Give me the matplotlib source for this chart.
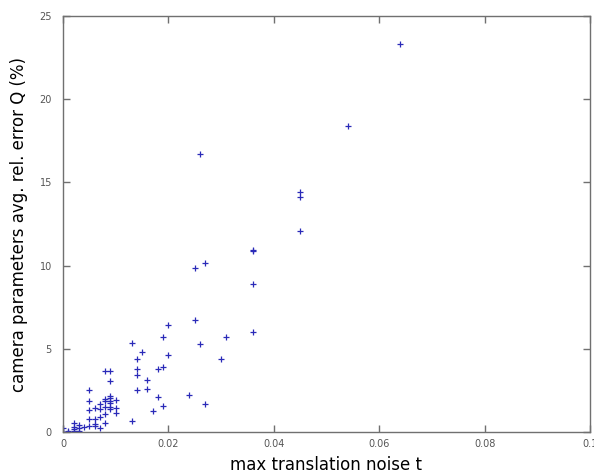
import matplotlib
matplotlib.use("Agg")
import matplotlib.pyplot as plt

# noise level t and the resulting camera parameter error Q (%)
noise_t = [
    0.0, 0.0, 0.0,
    0.001, 0.001,
    0.002, 0.002, 0.002, 0.002,
    0.003, 0.003, 0.003,
    0.004,
    0.005, 0.005, 0.005, 0.005, 0.005,
    0.006, 0.006, 0.006, 0.006,
    0.007, 0.007, 0.007, 0.007,
    0.008, 0.008, 0.008, 0.008, 0.008, 0.008,
    0.009, 0.009, 0.009, 0.009, 0.009, 0.009, 0.009, 0.009,
    0.010, 0.010, 0.010,
    0.013, 0.013,
    0.014, 0.014, 0.014, 0.014,
    0.015,
    0.016, 0.016,
    0.017,
    0.018, 0.018,
    0.019, 0.019, 0.019,
    0.020, 0.020,
    0.024,
    0.025, 0.025,
    0.026, 0.026,
    0.027, 0.027,
    0.030,
    0.031,
    0.036, 0.036, 0.036, 0.036,
    0.045, 0.045, 0.045,
    0.054,
    0.064,
]
error_q = [
    0.26, 0.02, 0.0,
    0.06, 0.0,
    0.56, 0.32, 0.20, 0.06,
    0.42, 0.26, 0.04,
    0.32,
    2.55, 1.85, 1.35, 0.76, 0.34,
    1.45, 0.76, 0.50, 0.36,
    1.67, 1.41, 0.90, 0.26,
    3.67, 1.97, 1.87, 1.53, 1.06, 0.56,
    3.66, 3.09, 2.19, 2.07, 1.87, 1.75, 1.50, 1.37,
    1.91, 1.43, 1.16,
    5.32, 0.66,
    4.38, 3.80, 3.41, 2.51,
    4.80,
    3.11, 2.61,
    1.29,
    3.80, 2.13,
    5.68, 3.92, 1.55,
    6.45, 4.60,
    2.21,
    9.84, 6.75,
    16.69, 5.28,
    10.14, 1.67,
    4.38,
    5.72,
    10.95, 10.86, 8.90, 6.02,
    14.42, 14.14, 12.05,
    18.37,
    23.33,
]

xticks = [0, 0.02, 0.04, 0.06, 0.08, 0.1]
xtick_labels = ["0", "0.02", "0.04", "0.06", "0.08", "0.1"]
yticks = [0, 5, 10, 15, 20, 25]

fig = plt.figure(figsize=(5.94, 4.74), dpi=100)
ax = fig.add_axes([63 / 594, 42 / 474, 527 / 594, 416 / 474])

ax.plot(noise_t, error_q, linestyle="none", marker="+", color="#2a2ab8",
        markersize=4, markeredgewidth=0.9)

ax.set_xlim(0, 0.1)
ax.set_ylim(0, 25)
ax.set_xticks(xticks)
ax.set_xticklabels(xtick_labels)
ax.set_yticks(yticks)

for s in ax.spines.values():
    s.set_color("#707070")
    s.set_linewidth(1.0)

ax.tick_params(direction="in", length=5, width=1, colors="#707070",
               labelcolor="#555555", labelsize=7, top=True, right=True)
ax.tick_params(axis="x", pad=5)
ax.tick_params(axis="y", pad=8)

ax.set_xlabel("max translation noise t", fontsize=12, labelpad=5)
ax.set_ylabel("camera parameters avg. rel. error Q (%)", fontsize=12, labelpad=8)

fig.savefig("out.png", dpi=100)
